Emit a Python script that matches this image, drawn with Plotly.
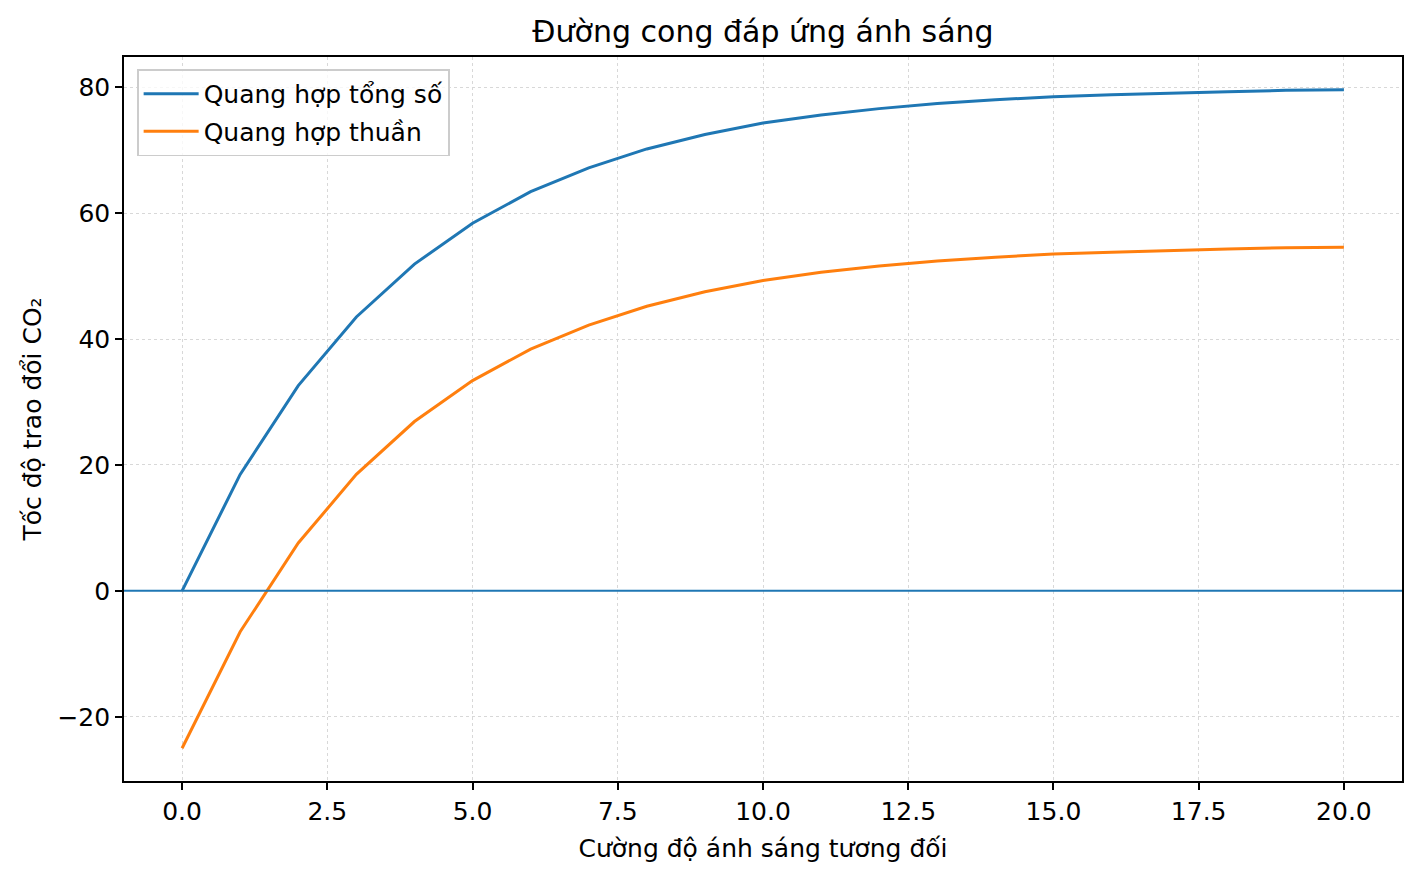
import plotly.graph_objects as go

# relative light intensity and CO2 exchange rates
light = [0, 1, 2, 3, 4, 5, 6, 7, 8, 9, 10, 11, 12, 13, 14, 15, 16, 17, 18, 19, 20]
gross = [0, 18.5, 32.6, 43.5, 51.9, 58.4, 63.4, 67.2, 70.2, 72.5, 74.3,
         75.6, 76.6, 77.4, 78.0, 78.5, 78.8, 79.1, 79.3, 79.5, 79.6]
net = [-25, -6.5, 7.6, 18.5, 26.9, 33.4, 38.4, 42.2, 45.2, 47.5, 49.3,
       50.6, 51.6, 52.4, 53.0, 53.5, 53.8, 54.1, 54.3, 54.5, 54.6]

x_ticks = [0, 2.5, 5, 7.5, 10, 12.5, 15, 17.5, 20]
y_ticks = [-20, 0, 20, 40, 60, 80]
y_labels = ['\u221220', '0', '20', '40', '60', '80']

FONT = 'DejaVu Sans'
BLUE = '#1f77b4'
ORANGE = '#ff7f0e'

fig = go.Figure()
fig.add_trace(go.Scatter(x=light, y=gross, mode='lines', name='Quang hợp tổng số',
                         line=dict(color=BLUE, width=3), legendgroup='a'))
fig.add_trace(go.Scatter(x=light, y=net, mode='lines', name='Quang hợp thuần',
                         line=dict(color=ORANGE, width=3), legendgroup='b'))

# zero line across the whole axes
fig.add_shape(type='line', xref='paper', x0=0, x1=1, yref='y', y0=0, y1=0,
              line=dict(color=BLUE, width=2), layer='above')

axis_common = dict(
    showline=True, linecolor='black', linewidth=1.6, mirror=True,
    ticks='outside', ticklen=7, tickwidth=1.6, tickcolor='black',
    showgrid=True, gridcolor='#d8d8d8', gridwidth=1, griddash='dot',
    zeroline=False, tickfont=dict(family=FONT, size=25, color='black'),
)

fig.update_xaxes(range=[-1, 21], tickvals=x_ticks, tickformat='.1f',
                 title=dict(text='Cường độ ánh sáng tương đối', standoff=15,
                            font=dict(family=FONT, size=25, color='black')),
                 **axis_common)
fig.update_yaxes(range=[-30.2, 84.8], tickvals=y_ticks, ticktext=y_labels,
                 title=dict(text='Tốc độ trao đổi CO₂', standoff=9,
                            font=dict(family=FONT, size=25, color='black')),
                 **axis_common)

# page body adds ~8px margin, so the figure is sized and offset for that
fig.update_layout(
    width=1405, height=861,
    margin=dict(l=116, r=9, t=49, b=88),
    paper_bgcolor='white', plot_bgcolor='white',
    font=dict(family=FONT, size=25, color='black'),
    title=dict(text='Đường cong đáp ứng ánh sáng', x=0.5, xref='paper',
               y=1 - 23 / 861, yref='container', yanchor='middle', xanchor='center',
               font=dict(family=FONT, size=30, color='black')),
    legend=dict(x=0.0102, y=0.983, xanchor='left', yanchor='top',
                bgcolor='rgba(255,255,255,0.8)', bordercolor='#cccccc', borderwidth=1.6,
                font=dict(family=FONT, size=25, color='black'),
                tracegroupgap=2, itemwidth=55),
    showlegend=True,
)

fig.write_html('out.html')
